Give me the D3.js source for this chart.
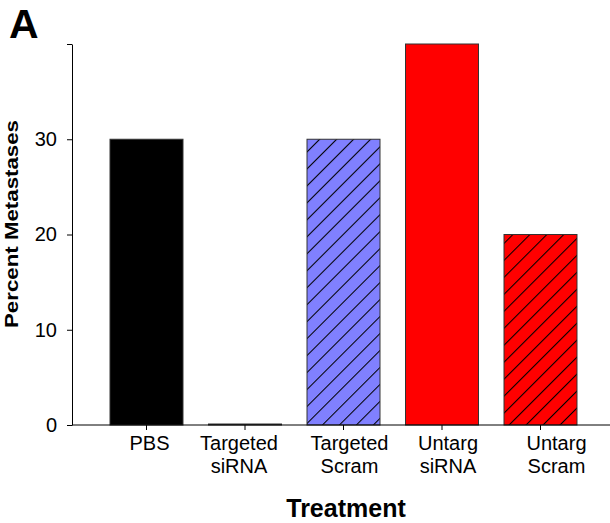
<!DOCTYPE html>
<html>
<head>
<meta charset="utf-8">
<script src="https://cdn.jsdelivr.net/npm/d3@7"></script>
<style>
  body { margin: 0; background: #fff; }
  svg { display: block; font-family: "Liberation Sans", Arial, sans-serif; }
</style>
</head>
<body>
<svg id="chart" width="610" height="523"></svg>
<script>
/*	Chart data ---------------------------------------------------------------*/
var categories = ["PBS", "Targeted siRNA", "Targeted Scram", "Untarg siRNA", "Untarg Scram"];
var values = [30, 0, 30, 40, 20];
var yTicks = [0, 10, 20, 30, 40];
var yTickLabels = ["0", "10", "20", "30", ""];

/*	Styles (per bar) ---------------------------------------------------------*/
var barFill = ["#000000", "#8080ff", "#8080ff", "#ff0000", "#ff0000"];
var barHatch = [false, true, true, false, true];
var labelNudge = [3, -6, 6, 6, 16];

var axisLeft = 72, axisRight = 610, axisBottom = 425, axisTop = 44;

var svg = d3.select("#chart");

/*	Scales ---------------------------------------------------------------------*/
var x = d3.scaleBand()
	.domain(categories)
	.range([97.25, 589.75])
	.paddingInner(0.259)
	.paddingOuter(0.1295);

var y = d3.scaleLinear()
	.domain([0, 40])
	.range([axisBottom, axisTop]);

/*	Hatch patterns ------------------------------------------------------------*/
var defs = svg.append("defs");
["#8080ff", "#ff0000"].forEach(function(c, i) {
	var p = defs.append("pattern")
		.attr("id", "hatch" + i)
		.attr("patternUnits", "userSpaceOnUse")
		.attr("width", 12)
		.attr("height", 12)
		.attr("patternTransform", "rotate(45)");
	p.append("rect").attr("width", 12).attr("height", 12).attr("fill", c);
	p.append("line")
		.attr("x1", 0.5).attr("y1", 0)
		.attr("x2", 0.5).attr("y2", 12)
		.attr("stroke", "#000")
		.attr("stroke-width", 1.1);
});

/*	Bars (a zero value still shows as a thin outlined bar) --------------------*/
var barH = function(d) { return Math.max(y(0) - y(d), 1); };
svg.append("g").selectAll("rect")
	.data(values)
	.enter()
	.append("rect")
	.attr("x", function(d, i) { return x(categories[i]); })
	.attr("y", function(d) { return y(0) - barH(d); })
	.attr("width", x.bandwidth())
	.attr("height", barH)
	.attr("fill", function(d, i) {
		if (!barHatch[i]) return barFill[i];
		return barFill[i] === "#8080ff" ? "url(#hatch0)" : "url(#hatch1)";
	})
	.attr("stroke", "#333")
	.attr("stroke-width", 1);

/*	Y axis ---------------------------------------------------------------------*/
var yAxis = svg.append("g")
	.attr("transform", "translate(" + axisLeft + ",0)")
	.call(d3.axisLeft(y)
		.tickValues(yTicks)
		.tickFormat(function(d, i) { return yTickLabels[i]; })
		.tickSize(5)
		.tickSizeOuter(0)
		.tickPadding(10));
yAxis.selectAll("text")
	.style("font-size", "20px")
	.style("font-family", "'Liberation Sans', Arial, sans-serif")
	.attr("fill", "#000");
yAxis.selectAll("line, path").attr("stroke", "#000");

/*	X axis ---------------------------------------------------------------------*/
svg.append("line")
	.attr("x1", axisLeft).attr("x2", axisRight)
	.attr("y1", axisBottom).attr("y2", axisBottom)
	.attr("stroke", "#000");

var xAxis = svg.append("g")
	.attr("transform", "translate(0," + axisBottom + ")")
	.call(d3.axisBottom(x).tickSize(5).tickSizeOuter(0));
xAxis.select(".domain").remove();
xAxis.selectAll("line").attr("stroke", "#000");
xAxis.selectAll("text").remove();
xAxis.selectAll("g.tick").each(function(d, i) {
	var cut = d.indexOf(" ");
	var words = cut > 0 ? [d.slice(0, cut), d.slice(cut + 1)] : [d];
	var t = d3.select(this).append("text")
		.attr("text-anchor", "middle")
		.attr("fill", "#000")
		.style("font-size", "20px")
		.style("font-family", "'Liberation Sans', Arial, sans-serif");
	words.forEach(function(w, k) {
		t.append("tspan")
			.attr("x", labelNudge[i])
			.attr("y", 25 + k * 23)
			.text(w);
	});
});

/*	Axis titles ---------------------------------------------------------------*/
svg.append("text")
	.attr("transform", "translate(18,224)rotate(-90)")
	.attr("text-anchor", "middle")
	.attr("font-weight", "bold")
	.attr("font-size", "18px")
	.attr("textLength", 208)
	.attr("lengthAdjust", "spacingAndGlyphs")
	.text("Percent Metastases");

svg.append("text")
	.attr("x", 346)
	.attr("y", 517)
	.attr("text-anchor", "middle")
	.attr("font-weight", "bold")
	.attr("font-size", "25px")
	.text("Treatment");

svg.append("text")
	.attr("x", 9)
	.attr("y", 38)
	.attr("font-weight", "bold")
	.attr("font-size", "41px")
	.text("A");
</script>
</body>
</html>
